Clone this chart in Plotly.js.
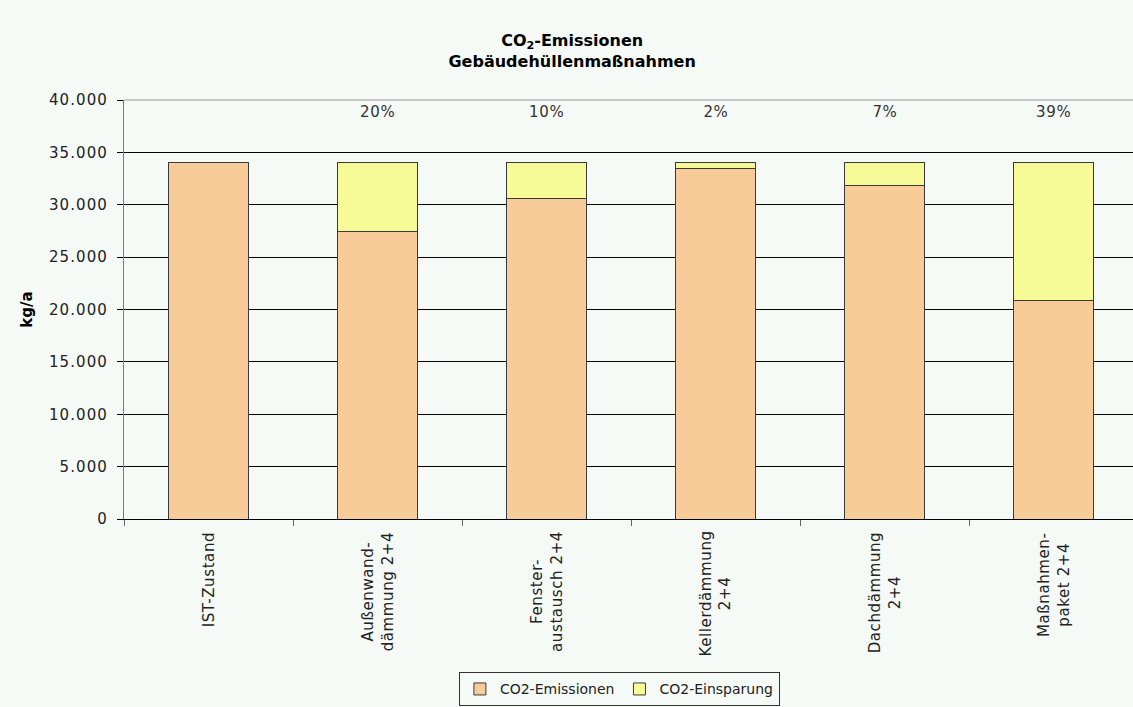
<!DOCTYPE html>
<html>
<head>
<meta charset="utf-8">
<script src="https://cdn.plot.ly/plotly-3.0.1.min.js"></script>
<style>
  html, body { margin: 0; padding: 0; background: #f5faf7; }
  #chart { width: 1133px; height: 707px; }
  /* slightly open letter spacing for axis and label texts */
  #chart .ytick text { letter-spacing: 1.1px; }
  #chart .annotation-text { letter-spacing: 0.6px; }
</style>
</head>
<body>
<div id="chart"></div>
<script>
// Scenario keys and their wrapped axis labels
const categories = [
  'IST-Zustand',
  'Außenwanddämmung 2+4',
  'Fensteraustausch 2+4',
  'Kellerdämmung 2+4',
  'Dachdämmung 2+4',
  'Maßnahmenpaket 2+4'
];
const categoryLabels = [
  'IST-Zustand',
  'Außenwand-<br>dämmung 2+4',
  'Fenster-<br>austausch 2+4',
  'Kellerdämmung<br>2+4',
  'Dachdämmung<br>2+4',
  'Maßnahmen-<br>paket 2+4'
];

// Annual CO2 in kg/a
const emissions = [34050, 27400, 30600, 33500, 31800, 20850];
const savings   = [0, 6650, 3450, 550, 2250, 13200];

// Y axis ticks (German number format)
const yTickValues = [0, 5000, 10000, 15000, 20000, 25000, 30000, 35000, 40000];
const yTickLabels = ['0', '5.000', '10.000', '15.000', '20.000', '25.000', '30.000', '35.000', '40.000'];

const FONT = 'DejaVu Sans, Verdana, sans-serif';
const BG = '#f5faf7';

const traces = [
  {
    type: 'bar',
    name: 'CO2-Emissionen',
    x: categories,
    y: emissions,
    marker: { color: '#f7cc99', line: { color: '#3a3a3a', width: 1 } },
    hoverinfo: 'skip'
  },
  {
    type: 'bar',
    name: 'CO2-Einsparung',
    x: categories,
    y: savings,
    marker: { color: '#f6fb97', line: { color: '#3a3a3a', width: 1 } },
    hoverinfo: 'skip'
  }
];

const annotations = [];

// Savings share above each measure
categories.forEach((c, i) => {
  if (savings[i] <= 0) return;
  const pct = Math.round(100 * savings[i] / (emissions[i] + savings[i]));
  annotations.push({
    x: c, xref: 'x',
    y: 0.971, yref: 'paper', yanchor: 'middle',
    text: pct + '%',
    showarrow: false,
    font: { family: FONT, size: 15, color: '#333' }
  });
});

// Rotated category labels, lines centred, block hanging from the axis
categories.forEach((c, i) => {
  annotations.push({
    x: c, xref: 'x',
    y: 0, yref: 'paper', yanchor: 'top', yshift: -14,
    text: categoryLabels[i],
    textangle: -90,
    align: 'center',
    showarrow: false,
    font: { family: FONT, size: 15, color: '#222' }
  });
});

const layout = {
  width: 1133,
  height: 707,
  paper_bgcolor: BG,
  plot_bgcolor: BG,
  margin: { l: 124, r: 0, t: 100, b: 188 },
  barmode: 'stack',
  bargap: 0.525,
  showlegend: true,
  title: {
    text: 'CO<sub>2</sub>-Emissionen<br>Gebäudehüllenmaßnahmen',
    font: { family: FONT, size: 16, weight: 'bold', color: '#000' },
    x: 0.505, xanchor: 'center',
    y: 0.935, yanchor: 'top'
  },
  xaxis: {
    type: 'category',
    range: [-0.5, 5.47],
    showticklabels: false,
    ticks: 'outside',
    tickson: 'boundaries',
    ticklen: 6,
    tickcolor: '#666',
    showline: true,
    linecolor: '#000',
    linewidth: 1,
    showgrid: false,
    fixedrange: true
  },
  yaxis: {
    range: [0, 40000],
    tickvals: yTickValues,
    ticktext: yTickLabels,
    ticks: 'outside',
    ticklen: 6,
    tickcolor: '#000',
    ticklabelstandoff: 6,
    tickfont: { family: FONT, size: 15, color: '#222' },
    showline: true,
    linecolor: '#7a7a7a',
    linewidth: 1,
    showgrid: true,
    gridcolor: '#000',
    gridwidth: 1,
    zeroline: false,
    title: {
      text: 'kg/a',
      font: { family: FONT, size: 15, weight: 'bold', color: '#000' },
      standoff: 19
    },
    fixedrange: true
  },
  legend: {
    orientation: 'h',
    traceorder: 'normal',
    xref: 'paper', x: 0.491, xanchor: 'center',
    yref: 'container', y: 0.049, yanchor: 'top',
    bgcolor: BG,
    bordercolor: '#333',
    borderwidth: 1,
    itemwidth: 30,
    font: { family: FONT, size: 14, color: '#222' },
    itemclick: false,
    itemdoubleclick: false
  },
  shapes: [
    // grey frame along the top of the plot area
    { type: 'line', xref: 'paper', yref: 'paper', x0: 0, x1: 1, y0: 1, y1: 1,
      line: { color: '#9a9a9a', width: 1 } }
  ],
  annotations: annotations
};

Plotly.newPlot('chart', traces, layout, { displayModeBar: false, staticPlot: true });
</script>
</body>
</html>
